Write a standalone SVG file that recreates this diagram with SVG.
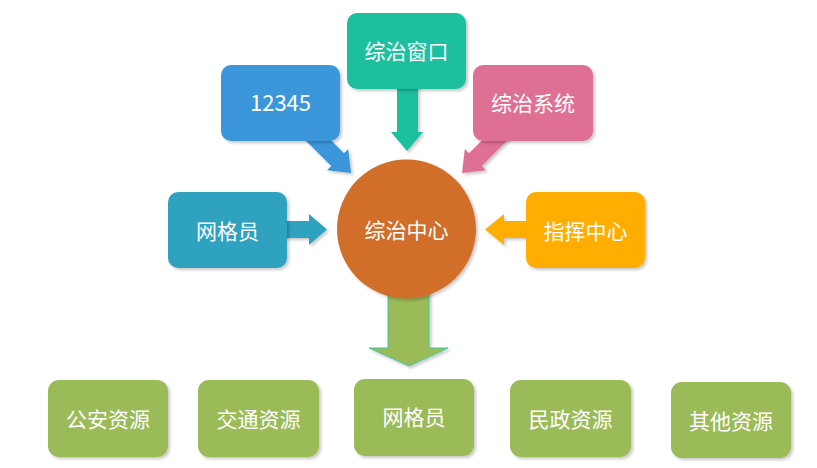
<svg xmlns="http://www.w3.org/2000/svg" width="817" height="468" viewBox="0 0 817 468">
<defs>
<filter id="sh" x="-10%" y="-10%" width="125%" height="130%">
<feDropShadow dx="2" dy="2" stdDeviation="1.5" flood-color="#000" flood-opacity="0.22"/>
</filter>
<style>
.t{font-family:"Noto Sans CJK SC","Microsoft YaHei",sans-serif;font-size:21px;fill:#fff;text-anchor:middle;dominant-baseline:central}
.g{fill:#9bbb59}
</style>
</defs>
<rect width="817" height="468" fill="#fff"/>
<g id="connectors">
<polygon points="397,80 418,80 418,132 423,132 407,151 391,132 397,132" fill="#1cbf9e" filter="url(#sh)"/>
<polygon points="316.4,125.6 344,153.2 348.2,149 351,173 327,170.2 331.2,166 303.6,138.4" fill="#3a97d9" filter="url(#sh)"/>
<polygon points="496.6,125.6 469,153.2 464.8,149 462,173 486,170.2 481.8,166 509.4,138.4" fill="#de7094" filter="url(#sh)"/>
<polygon points="280,221 309,221 309,214 327,229.5 309,245 309,238 280,238" fill="#2ea2bf" filter="url(#sh)"/>
<polygon points="533,221 504,221 504,214 485,229.5 504,245 504,238 533,238" fill="#ffad00" filter="url(#sh)"/>
<polygon points="388,285 429,285 429,348 448,348 409,366 369,348 388,348" fill="#9bbb59" stroke="#3cc8a0" stroke-width="1" filter="url(#sh)"/>
</g>
<g id="n-window"><rect x="347" y="13" width="119" height="76" rx="10" fill="#1cbf9e" filter="url(#sh)"/><text class="t" x="406.5" y="50">综治窗口</text></g>
<g id="n-12345"><rect x="221" y="65" width="119" height="76" rx="10" fill="#3a97d9" filter="url(#sh)"/><text class="t" x="280.5" y="101" style="font-size:22px">12345</text></g>
<g id="n-system"><rect x="473" y="65" width="120" height="76" rx="10" fill="#de7094" filter="url(#sh)"/><text class="t" x="533" y="102">综治系统</text></g>
<g id="n-grid"><rect x="168" y="192" width="119" height="76" rx="10" fill="#2ea2bf" filter="url(#sh)"/><text class="t" x="227.5" y="230">网格员</text></g>
<g id="n-command"><rect x="526" y="192" width="119" height="76" rx="10" fill="#ffad00" filter="url(#sh)"/><text class="t" x="585.5" y="230">指挥中心</text></g>
<g id="n-center"><circle cx="406.5" cy="229" r="69.5" fill="#d06e2b" filter="url(#sh)"/><text class="t" x="406.5" y="229">综治中心</text></g>
<g id="n-police"><rect x="48" y="380" width="120" height="77" rx="11" class="g" filter="url(#sh)"/><text class="t" x="108" y="418">公安资源</text></g>
<g id="n-traffic"><rect x="198" y="380" width="121" height="77" rx="11" class="g" filter="url(#sh)"/><text class="t" x="258.5" y="418">交通资源</text></g>
<g id="n-grid2"><rect x="354" y="379" width="120" height="77" rx="11" class="g" filter="url(#sh)"/><text class="t" x="414" y="416">网格员</text></g>
<g id="n-civil"><rect x="510" y="380" width="121" height="77" rx="11" class="g" filter="url(#sh)"/><text class="t" x="570.5" y="418">民政资源</text></g>
<g id="n-other"><rect x="671" y="382" width="120" height="76" rx="11" class="g" filter="url(#sh)"/><text class="t" x="731" y="420">其他资源</text></g>
</svg>
